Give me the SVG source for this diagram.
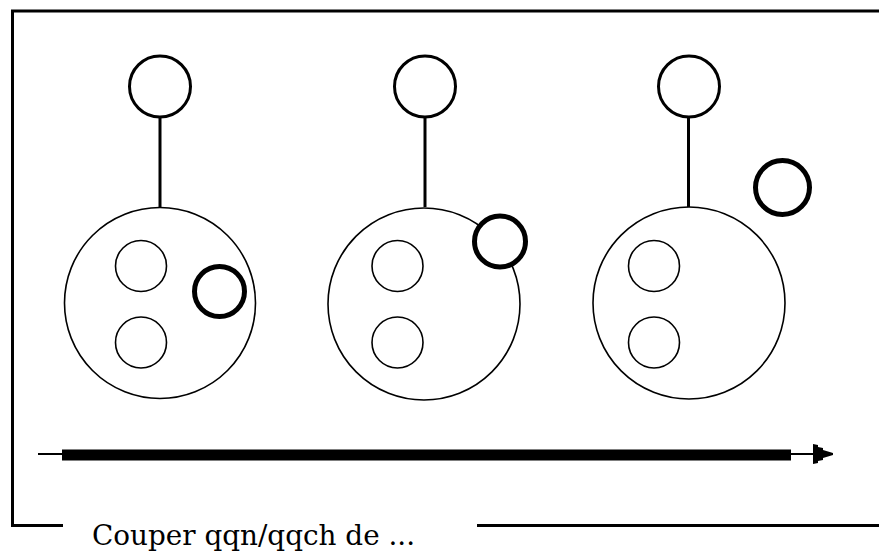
<svg xmlns="http://www.w3.org/2000/svg" width="879" height="553" viewBox="0 0 879 553">
<style>
.frame{fill:none;stroke:#000;stroke-width:3}
.top{fill:#fff;stroke:#000;stroke-width:3}
.stem{stroke:#000;stroke-width:3}
.big{fill:none;stroke:#000;stroke-width:1.6}
.small{fill:none;stroke:#000;stroke-width:1.6}
.bold{fill:#fff;stroke:#000;stroke-width:5}
.label{font-family:"DejaVu Serif","Liberation Serif",serif;font-size:28px;fill:#000}
</style>
<rect width="879" height="553" fill="#fff"/>
<g id="frame">
<path class="frame" d="M63,525.5 H12.5 V11 H879"/>
<path class="frame" d="M477,525.5 H879"/>
<text class="label" x="92" y="545" textLength="323" lengthAdjust="spacingAndGlyphs">Couper qqn/qqch de ...</text>
</g>
<g id="connectors">
<line class="stem" x1="160" y1="117" x2="160" y2="207"/>
<line class="stem" x1="425" y1="117" x2="425" y2="207"/>
<line class="stem" x1="688.5" y1="117" x2="688.5" y2="207"/>
<line x1="38" y1="454" x2="815" y2="454" stroke="#000" stroke-width="2"/>
<rect x="62" y="449.5" width="729" height="11" fill="#000"/>
<polygon points="813,444 818,445 818,447 823,448 823,450 833,453 833,455 823,458 823,460 818,461 818,463 813,464" fill="#000"/>
</g>
<g id="group1">
<circle class="top" cx="160" cy="86.5" r="30.5"/>
<circle class="big" cx="160" cy="303" r="95.5"/>
<circle class="small" cx="141" cy="266" r="25.5"/>
<circle class="small" cx="141" cy="342.5" r="25.5"/>
<circle class="bold" cx="219.5" cy="291.5" r="25"/>
</g>
<g id="group2">
<circle class="top" cx="425" cy="86.5" r="30.5"/>
<circle class="big" cx="424" cy="304" r="96"/>
<circle class="small" cx="397.5" cy="266" r="25.5"/>
<circle class="small" cx="397.5" cy="342.5" r="25.5"/>
<circle class="bold" cx="500" cy="241.5" r="25.5"/>
</g>
<g id="group3">
<circle class="top" cx="689" cy="86.5" r="30.5"/>
<circle class="big" cx="689" cy="303" r="96"/>
<circle class="small" cx="654" cy="266" r="25.5"/>
<circle class="small" cx="654" cy="342.5" r="25.5"/>
<circle class="bold" cx="782.5" cy="187.5" r="27"/>
</g>
</svg>
